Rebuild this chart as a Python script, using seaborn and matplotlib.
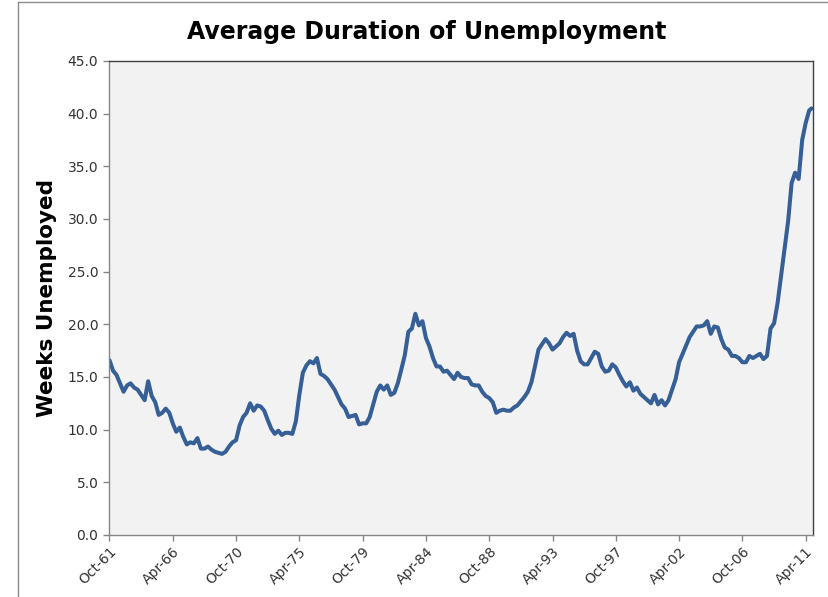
import numpy as np
import pandas as pd
import matplotlib
matplotlib.use("Agg")
import matplotlib.pyplot as plt
import seaborn as sns
from matplotlib.lines import Line2D

# Average duration of unemployment (weeks), quarterly readings from Oct-1961
weeks_1961_1971 = [16.6, 15.6, 15.2, 14.4, 13.6, 14.2, 14.4, 14.0, 13.8, 13.3,
                   12.8, 14.6, 13.2, 12.6, 11.4, 11.6, 12.0, 11.6, 10.6, 9.8,
                   10.2, 9.3, 8.6, 8.8, 8.7, 9.2, 8.2, 8.2, 8.4, 8.1,
                   7.9, 7.8, 7.7, 7.9, 8.4, 8.8, 9.0, 10.4, 11.2, 11.6]
weeks_1971_1981 = [12.5, 11.8, 12.3, 12.2, 11.8, 10.9, 10.1, 9.6, 9.9, 9.5,
                   9.7, 9.7, 9.6, 10.8, 13.3, 15.4, 16.1, 16.5, 16.3, 16.8,
                   15.3, 15.1, 14.8, 14.3, 13.8, 13.1, 12.4, 12.0, 11.2, 11.3,
                   11.4, 10.5, 10.6, 10.6, 11.2, 12.4, 13.6, 14.2, 13.8, 14.2]
weeks_1981_1991 = [13.3, 13.5, 14.4, 15.7, 17.1, 19.3, 19.6, 21.0, 19.9, 20.3,
                   18.7, 17.9, 16.8, 16.0, 16.0, 15.5, 15.6, 15.2, 14.8, 15.4,
                   15.0, 14.9, 14.9, 14.3, 14.2, 14.2, 13.6, 13.2, 13.0, 12.6,
                   11.6, 11.8, 11.9, 11.8, 11.8, 12.1, 12.3, 12.7, 13.1, 13.6]
weeks_1991_2001 = [14.5, 16.0, 17.6, 18.1, 18.6, 18.2, 17.6, 17.9, 18.2, 18.8,
                   19.2, 18.9, 19.1, 17.5, 16.5, 16.2, 16.2, 16.8, 17.4, 17.2,
                   16.0, 15.5, 15.6, 16.2, 15.9, 15.2, 14.6, 14.1, 14.5, 13.7,
                   14.0, 13.4, 13.1, 12.8, 12.5, 13.3, 12.4, 12.8, 12.3, 12.8]
weeks_2001_2011 = [13.8, 14.8, 16.4, 17.2, 18.0, 18.8, 19.3, 19.8, 19.8, 19.9,
                   20.3, 19.1, 19.8, 19.7, 18.6, 17.8, 17.6, 17.0, 17.0, 16.8,
                   16.4, 16.4, 17.0, 16.8, 17.0, 17.2, 16.7, 17.0, 19.6, 20.1,
                   22.0, 24.6, 27.2, 29.8, 33.4, 34.4, 33.8, 37.5, 39.1, 40.3]
latest_date = "2011-09-01"
latest_weeks = 40.5

tick_labels = ["Oct-61", "Apr-66", "Oct-70", "Apr-75", "Oct-79", "Apr-84",
               "Oct-88", "Apr-93", "Oct-97", "Apr-02", "Oct-06", "Apr-11"]
y_ticks = [0, 5, 10, 15, 20, 25, 30, 35, 40, 45]

quarterly = (weeks_1961_1971 + weeks_1971_1981 + weeks_1981_1991
             + weeks_1991_2001 + weeks_2001_2011)
dates = list(pd.date_range("1961-10-01", periods=len(quarterly), freq="3MS"))
dates.append(pd.Timestamp(latest_date))
df = pd.DataFrame({"date": dates, "weeks": quarterly + [latest_weeks]})

sns.set_theme(style="white")
plt.rcParams["font.family"] = ["DejaVu Sans"]

W, H = 829, 597
fig = plt.figure(figsize=(W / 100, H / 100), dpi=100)
fig.patch.set_facecolor("white")

# plot area in pixel terms
left, right, top, bottom = 109.5, 812.7, 61, 535
ax = fig.add_axes([left / W, 1 - bottom / H, (right - left) / W, (bottom - top) / H])
ax.set_facecolor("#F2F2F2")

sns.lineplot(data=df, x="date", y="weeks", ax=ax, color="#355F96",
             linewidth=2.9, solid_joinstyle="round", solid_capstyle="round")

ax.set_xlim(pd.Timestamp("1961-10-01"), pd.Timestamp("2011-10-01"))
ax.set_ylim(0, 45)

tick_dates = pd.date_range("1961-10-01", periods=len(tick_labels), freq="54MS")
ax.set_xticks(tick_dates)
ax.set_xticklabels(tick_labels, rotation=45, ha="right", rotation_mode="anchor")
ax.set_yticks(y_ticks)
ax.set_yticklabels([f"{v:.1f}" for v in y_ticks])

ax.tick_params(axis="both", which="major", direction="out", length=4, width=1,
               color="#868686", labelsize=10, labelcolor="#333333",
               bottom=True, left=True)
ax.tick_params(axis="x", pad=3)
ax.tick_params(axis="y", pad=4)

for side in ("left", "bottom"):
    ax.spines[side].set_color("#868686")
    ax.spines[side].set_linewidth(1)
for side in ("top", "right"):
    ax.spines[side].set_color("#404040")
    ax.spines[side].set_linewidth(1)

ax.set_xlabel("")
ax.set_ylabel("")

fig.text(427 / W, 1 - 32 / H, "Average Duration of Unemployment",
         ha="center", va="center", fontsize=17, fontweight="bold", color="black")
fig.text(47 / W, 1 - 298 / H, "Weeks Unemployed", rotation=90,
         ha="center", va="center", fontsize=15.5, fontweight="bold", color="black")

# outer chart frame
fx = 18 / W
fy = 1 - 2 / H
fig.add_artist(Line2D([fx, fx], [0, fy], transform=fig.transFigure,
                      color="#8C8C8C", linewidth=1))
fig.add_artist(Line2D([fx, 1], [fy, fy], transform=fig.transFigure,
                      color="#8C8C8C", linewidth=1))

fig.savefig("out.png", dpi=100, facecolor="white")
